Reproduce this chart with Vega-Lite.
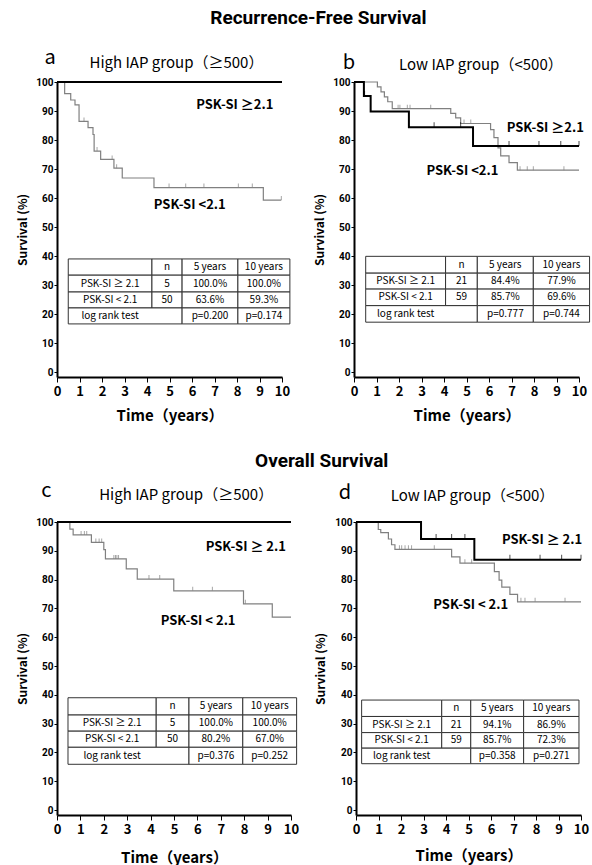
{
"$schema": "https://vega.github.io/schema/vega-lite/v6.json",
"background": "white",
"padding": {"left": 16, "top": 8, "right": 0, "bottom": 0},
"datasets": {
"a_curve": [{"t":0,"s":100,"g":"lo"},{"t":0.34,"s":96.0,"g":"lo"},{"t":0.61,"s":93.8,"g":"lo"},{"t":0.8,"s":92.1,"g":"lo"},{"t":0.98,"s":86.4,"g":"lo"},{"t":1.38,"s":84.3,"g":"lo"},{"t":1.6,"s":81.9,"g":"lo"},{"t":1.65,"s":76.2,"g":"lo"},{"t":1.94,"s":73.3,"g":"lo"},{"t":2.53,"s":70.3,"g":"lo"},{"t":2.9,"s":66.9,"g":"lo"},{"t":4.31,"s":63.6,"g":"lo"},{"t":9.17,"s":59.3,"g":"lo"},{"t":9.97,"s":59.3,"g":"lo"},{"t":0,"s":100,"g":"hi"},{"t":10,"s":100,"g":"hi"}],
"a_cens": [{"t":1.2,"s":86.4,"g":"lo"},{"t":1.78,"s":76.2,"g":"lo"},{"t":2.45,"s":73.3,"g":"lo"},{"t":2.65,"s":70.3,"g":"lo"},{"t":4.98,"s":63.6,"g":"lo"},{"t":5.72,"s":63.6,"g":"lo"},{"t":6.53,"s":63.6,"g":"lo"},{"t":8.06,"s":63.6,"g":"lo"},{"t":8.68,"s":63.6,"g":"lo"},{"t":9.97,"s":59.3,"g":"lo"}],
"a_txt": [{"t":-0.31,"s":108.3,"label":"a","kind":"letter"},{"t":5.31,"s":106.6,"label":"High IAP group（≥500）","kind":"head"},{"t":7.9,"s":92.1,"label":"PSK-SI ≥2.1","kind":"label"},{"t":5.9,"s":57.6,"label":"PSK-SI <2.1","kind":"label"}],
"a_cells": [
{"x1":0.5,"x2":4.22,"y1":39.0,"y2":33.4},{"x1":4.22,"x2":5.56,"y1":39.0,"y2":33.4},{"x1":5.56,"x2":8.04,"y1":39.0,"y2":33.4},{"x1":8.04,"x2":10.35,"y1":39.0,"y2":33.4},
{"x1":0.5,"x2":4.22,"y1":33.4,"y2":27.6},{"x1":4.22,"x2":5.56,"y1":33.4,"y2":27.6},{"x1":5.56,"x2":8.04,"y1":33.4,"y2":27.6},{"x1":8.04,"x2":10.35,"y1":33.4,"y2":27.6},
{"x1":0.5,"x2":4.22,"y1":27.6,"y2":22.1},{"x1":4.22,"x2":5.56,"y1":27.6,"y2":22.1},{"x1":5.56,"x2":8.04,"y1":27.6,"y2":22.1},{"x1":8.04,"x2":10.35,"y1":27.6,"y2":22.1},
{"x1":0.5,"x2":5.56,"y1":22.1,"y2":16.6},{"x1":5.56,"x2":8.04,"y1":22.1,"y2":16.6},{"x1":8.04,"x2":10.35,"y1":22.1,"y2":16.6}],
"a_tt": [
{"label":"n","tx":4.89,"ty":36.2},{"label":"5 years","tx":6.8,"ty":36.2},{"label":"10 years","tx":9.195,"ty":36.2},
{"label":"PSK-SI ≥ 2.1","tx":2.36,"ty":30.5},{"label":"5","tx":4.89,"ty":30.5},{"label":"100.0%","tx":6.8,"ty":30.5},{"label":"100.0%","tx":9.195,"ty":30.5},
{"label":"PSK-SI < 2.1","tx":2.36,"ty":24.85},{"label":"50","tx":4.89,"ty":24.85},{"label":"63.6%","tx":6.8,"ty":24.85},{"label":"59.3%","tx":9.195,"ty":24.85},
{"label":"log rank test","tx":2.36,"ty":19.35},{"label":"p=0.200","tx":6.8,"ty":19.35},{"label":"p=0.174","tx":9.195,"ty":19.35}],
"b_curve": [{"t":0,"s":100,"g":"lo"},{"t":1.04,"s":98.3,"g":"lo"},{"t":1.2,"s":96.6,"g":"lo"},{"t":1.35,"s":94.9,"g":"lo"},{"t":1.5,"s":93.2,"g":"lo"},{"t":1.7,"s":90.8,"g":"lo"},{"t":4.3,"s":89.2,"g":"lo"},{"t":4.52,"s":87.6,"g":"lo"},{"t":4.74,"s":85.7,"g":"lo"},{"t":6.07,"s":83.6,"g":"lo"},{"t":6.22,"s":80.8,"g":"lo"},{"t":6.4,"s":77.3,"g":"lo"},{"t":6.52,"s":74.5,"g":"lo"},{"t":6.89,"s":72.2,"g":"lo"},{"t":7.26,"s":69.6,"g":"lo"},{"t":10,"s":69.6,"g":"lo"},{"t":0,"s":100,"g":"hi"},{"t":0.44,"s":95.2,"g":"hi"},{"t":0.74,"s":89.8,"g":"hi"},{"t":2.44,"s":84.4,"g":"hi"},{"t":5.29,"s":77.9,"g":"hi"},{"t":10,"s":77.9,"g":"hi"}],
"b_cens": [{"t":0.47,"s":95.2,"g":"hi"},{"t":3.56,"s":84.4,"g":"hi"},{"t":4.74,"s":84.4,"g":"hi"},{"t":6.89,"s":77.9,"g":"hi"},{"t":8.22,"s":77.9,"g":"hi"},{"t":9.19,"s":77.9,"g":"hi"},{"t":10,"s":77.9,"g":"hi"},{"t":1.96,"s":90.8,"g":"lo"},{"t":2.04,"s":90.8,"g":"lo"},{"t":2.37,"s":90.8,"g":"lo"},{"t":2.49,"s":90.8,"g":"lo"},{"t":3.41,"s":90.8,"g":"lo"},{"t":4.89,"s":85.7,"g":"lo"},{"t":5.19,"s":85.7,"g":"lo"},{"t":7.38,"s":69.6,"g":"lo"},{"t":7.7,"s":69.6,"g":"lo"},{"t":7.97,"s":69.6,"g":"lo"},{"t":9.33,"s":69.6,"g":"lo"}],
"b_txt": [{"t":-0.22,"s":106.5,"label":"b","kind":"letter"},{"t":5.64,"s":105.8,"label":"Low IAP group（<500）","kind":"head"},{"t":8.5,"s":84.2,"label":"PSK-SI ≥2.1","kind":"label"},{"t":4.82,"s":69.4,"label":"PSK-SI <2.1","kind":"label"}],
"b_cells": [
{"x1":0.52,"x2":4.07,"y1":39.9,"y2":34.1},{"x1":4.07,"x2":5.48,"y1":39.9,"y2":34.1},{"x1":5.48,"x2":7.97,"y1":39.9,"y2":34.1},{"x1":7.97,"x2":10.47,"y1":39.9,"y2":34.1},
{"x1":0.52,"x2":4.07,"y1":34.1,"y2":28.6},{"x1":4.07,"x2":5.48,"y1":34.1,"y2":28.6},{"x1":5.48,"x2":7.97,"y1":34.1,"y2":28.6},{"x1":7.97,"x2":10.47,"y1":34.1,"y2":28.6},
{"x1":0.52,"x2":4.07,"y1":28.6,"y2":22.9},{"x1":4.07,"x2":5.48,"y1":28.6,"y2":22.9},{"x1":5.48,"x2":7.97,"y1":28.6,"y2":22.9},{"x1":7.97,"x2":10.47,"y1":28.6,"y2":22.9},
{"x1":0.52,"x2":5.48,"y1":22.9,"y2":17.2},{"x1":5.48,"x2":7.97,"y1":22.9,"y2":17.2},{"x1":7.97,"x2":10.47,"y1":22.9,"y2":17.2}],
"b_tt": [
{"label":"n","tx":4.775,"ty":37.0},{"label":"5 years","tx":6.725,"ty":37.0},{"label":"10 years","tx":9.22,"ty":37.0},
{"label":"PSK-SI ≥ 2.1","tx":2.295,"ty":31.35},{"label":"21","tx":4.775,"ty":31.35},{"label":"84.4%","tx":6.725,"ty":31.35},{"label":"77.9%","tx":9.22,"ty":31.35},
{"label":"PSK-SI < 2.1","tx":2.295,"ty":25.75},{"label":"59","tx":4.775,"ty":25.75},{"label":"85.7%","tx":6.725,"ty":25.75},{"label":"69.6%","tx":9.22,"ty":25.75},
{"label":"log rank test","tx":2.295,"ty":20.05},{"label":"p=0.777","tx":6.725,"ty":20.05},{"label":"p=0.744","tx":9.22,"ty":20.05}],
"c_curve": [{"t":0,"s":100,"g":"lo"},{"t":0.55,"s":97.5,"g":"lo"},{"t":0.69,"s":95.5,"g":"lo"},{"t":1.47,"s":92.9,"g":"lo"},{"t":2.0,"s":90.4,"g":"lo"},{"t":2.07,"s":87.2,"g":"lo"},{"t":2.96,"s":83.7,"g":"lo"},{"t":3.43,"s":80.2,"g":"lo"},{"t":4.99,"s":76.1,"g":"lo"},{"t":7.97,"s":71.6,"g":"lo"},{"t":9.2,"s":67.0,"g":"lo"},{"t":10,"s":67.0,"g":"lo"},{"t":0,"s":100,"g":"hi"},{"t":10,"s":100,"g":"hi"}],
"c_cens": [{"t":1.03,"s":95.5,"g":"lo"},{"t":1.17,"s":95.5,"g":"lo"},{"t":1.27,"s":95.5,"g":"lo"},{"t":1.66,"s":92.9,"g":"lo"},{"t":1.8,"s":92.9,"g":"lo"},{"t":1.91,"s":92.9,"g":"lo"},{"t":2.43,"s":87.2,"g":"lo"},{"t":2.5,"s":87.2,"g":"lo"},{"t":2.56,"s":87.2,"g":"lo"},{"t":2.63,"s":87.2,"g":"lo"},{"t":3.93,"s":80.2,"g":"lo"},{"t":4.39,"s":80.2,"g":"lo"},{"t":5.8,"s":76.1,"g":"lo"},{"t":6.64,"s":76.1,"g":"lo"},{"t":8.05,"s":71.6,"g":"lo"}],
"c_txt": [{"t":-0.46,"s":110.8,"label":"c","kind":"letter"},{"t":5.52,"s":109.4,"label":"High IAP group（≥500）","kind":"head"},{"t":8.07,"s":91.3,"label":"PSK-SI ≥ 2.1","kind":"label"},{"t":6.03,"s":65.6,"label":"PSK-SI < 2.1","kind":"label"}],
"c_cells": [
{"x1":0.47,"x2":4.24,"y1":39.0,"y2":33.0},{"x1":4.24,"x2":5.64,"y1":39.0,"y2":33.0},{"x1":5.64,"x2":7.94,"y1":39.0,"y2":33.0},{"x1":7.94,"x2":10.24,"y1":39.0,"y2":33.0},
{"x1":0.47,"x2":4.24,"y1":33.0,"y2":27.4},{"x1":4.24,"x2":5.64,"y1":33.0,"y2":27.4},{"x1":5.64,"x2":7.94,"y1":33.0,"y2":27.4},{"x1":7.94,"x2":10.24,"y1":33.0,"y2":27.4},
{"x1":0.47,"x2":4.24,"y1":27.4,"y2":21.8},{"x1":4.24,"x2":5.64,"y1":27.4,"y2":21.8},{"x1":5.64,"x2":7.94,"y1":27.4,"y2":21.8},{"x1":7.94,"x2":10.24,"y1":27.4,"y2":21.8},
{"x1":0.47,"x2":5.64,"y1":21.8,"y2":15.9},{"x1":5.64,"x2":7.94,"y1":21.8,"y2":15.9},{"x1":7.94,"x2":10.24,"y1":21.8,"y2":15.9}],
"c_tt": [
{"label":"n","tx":4.94,"ty":36.0},{"label":"5 years","tx":6.79,"ty":36.0},{"label":"10 years","tx":9.09,"ty":36.0},
{"label":"PSK-SI ≥ 2.1","tx":2.355,"ty":30.2},{"label":"5","tx":4.94,"ty":30.2},{"label":"100.0%","tx":6.79,"ty":30.2},{"label":"100.0%","tx":9.09,"ty":30.2},
{"label":"PSK-SI < 2.1","tx":2.355,"ty":24.6},{"label":"50","tx":4.94,"ty":24.6},{"label":"80.2%","tx":6.79,"ty":24.6},{"label":"67.0%","tx":9.09,"ty":24.6},
{"label":"log rank test","tx":2.355,"ty":18.85},{"label":"p=0.376","tx":6.79,"ty":18.85},{"label":"p=0.252","tx":9.09,"ty":18.85}],
"d_curve": [{"t":0,"s":100,"g":"lo"},{"t":0.99,"s":97.4,"g":"lo"},{"t":1.1,"s":96.3,"g":"lo"},{"t":1.44,"s":94.1,"g":"lo"},{"t":1.58,"s":92.1,"g":"lo"},{"t":1.73,"s":90.5,"g":"lo"},{"t":4.25,"s":87.9,"g":"lo"},{"t":4.62,"s":85.7,"g":"lo"},{"t":6.15,"s":82.8,"g":"lo"},{"t":6.36,"s":79.8,"g":"lo"},{"t":6.48,"s":77.4,"g":"lo"},{"t":6.84,"s":74.9,"g":"lo"},{"t":7.18,"s":72.3,"g":"lo"},{"t":10,"s":72.3,"g":"lo"},{"t":0,"s":100,"g":"hi"},{"t":2.89,"s":94.1,"g":"hi"},{"t":5.26,"s":86.9,"g":"hi"},{"t":10,"s":86.9,"g":"hi"}],
"d_cens": [{"t":3.56,"s":94.1,"g":"hi"},{"t":4.25,"s":94.1,"g":"hi"},{"t":4.84,"s":94.1,"g":"hi"},{"t":6.84,"s":86.9,"g":"hi"},{"t":8.18,"s":86.9,"g":"hi"},{"t":9.14,"s":86.9,"g":"hi"},{"t":10,"s":86.9,"g":"hi"},{"t":1.93,"s":90.5,"g":"lo"},{"t":2.03,"s":90.5,"g":"lo"},{"t":2.18,"s":90.5,"g":"lo"},{"t":2.33,"s":90.5,"g":"lo"},{"t":2.47,"s":90.5,"g":"lo"},{"t":3.48,"s":90.5,"g":"lo"},{"t":4.84,"s":85.7,"g":"lo"},{"t":5.14,"s":85.7,"g":"lo"},{"t":7.33,"s":72.3,"g":"lo"},{"t":7.51,"s":72.3,"g":"lo"},{"t":7.96,"s":72.3,"g":"lo"},{"t":9.29,"s":72.3,"g":"lo"}],
"d_txt": [{"t":-0.49,"s":110.1,"label":"d","kind":"letter"},{"t":5.18,"s":108.9,"label":"Low IAP group（<500）","kind":"head"},{"t":8.27,"s":93.7,"label":"PSK-SI ≥ 2.1","kind":"label"},{"t":5.1,"s":71.1,"label":"PSK-SI < 2.1","kind":"label"}],
"d_cells": [
{"x1":0.25,"x2":3.81,"y1":38.2,"y2":32.5},{"x1":3.81,"x2":5.1,"y1":38.2,"y2":32.5},{"x1":5.1,"x2":7.45,"y1":38.2,"y2":32.5},{"x1":7.45,"x2":9.91,"y1":38.2,"y2":32.5},
{"x1":0.25,"x2":3.81,"y1":32.5,"y2":26.9},{"x1":3.81,"x2":5.1,"y1":32.5,"y2":26.9},{"x1":5.1,"x2":7.45,"y1":32.5,"y2":26.9},{"x1":7.45,"x2":9.91,"y1":32.5,"y2":26.9},
{"x1":0.25,"x2":3.81,"y1":26.9,"y2":21.5},{"x1":3.81,"x2":5.1,"y1":26.9,"y2":21.5},{"x1":5.1,"x2":7.45,"y1":26.9,"y2":21.5},{"x1":7.45,"x2":9.91,"y1":26.9,"y2":21.5},
{"x1":0.25,"x2":5.1,"y1":21.5,"y2":16.1},{"x1":5.1,"x2":7.45,"y1":21.5,"y2":16.1},{"x1":7.45,"x2":9.91,"y1":21.5,"y2":16.1}],
"d_tt": [
{"label":"n","tx":4.455,"ty":35.35},{"label":"5 years","tx":6.275,"ty":35.35},{"label":"10 years","tx":8.68,"ty":35.35},
{"label":"PSK-SI ≥ 2.1","tx":2.03,"ty":29.7},{"label":"21","tx":4.455,"ty":29.7},{"label":"94.1%","tx":6.275,"ty":29.7},{"label":"86.9%","tx":8.68,"ty":29.7},
{"label":"PSK-SI < 2.1","tx":2.03,"ty":24.2},{"label":"59","tx":4.455,"ty":24.2},{"label":"85.7%","tx":6.275,"ty":24.2},{"label":"72.3%","tx":8.68,"ty":24.2},
{"label":"log rank test","tx":2.03,"ty":18.8},{"label":"p=0.358","tx":6.275,"ty":18.8},{"label":"p=0.271","tx":8.68,"ty":18.8}]
},
"spacing": 28,
"vconcat": [
{
"title": {"text": "Recurrence-Free Survival", "fontSize": 19, "font": "Roboto", "fontWeight": "bold", "frame": "bounds", "anchor": "middle", "offset": 20, "dx": 15},
"bounds": "flush",
"spacing": 72,
"hconcat": [
{
"width": 225, "height": 295,
"layer": [
{"data": {"name": "a_cells"}, "mark": {"type": "rect", "fill": "white", "stroke": "#333", "strokeWidth": 1},
 "encoding": {"x": {"field": "x1", "type": "quantitative", "scale": {"domain": [0, 10], "nice": false}, "axis": {"title": "Time（years）", "titlePadding": 10}}, "x2": {"field": "x2"},
  "y": {"field": "y1", "type": "quantitative", "scale": {"domain": [-1.7, 100], "nice": false}, "axis": {"title": "Survival (%)", "titlePadding": 6}}, "y2": {"field": "y2"}}},
{"data": {"name": "a_tt"}, "mark": {"type": "text", "fontSize": 10},
 "encoding": {"x": {"field": "tx", "type": "quantitative"}, "y": {"field": "ty", "type": "quantitative"}, "text": {"field": "label"}}},
{"data": {"name": "a_curve"}, "transform": [{"filter": "datum.g === 'lo'"}], "mark": {"type": "line", "interpolate": "step-after", "color": "#808080", "strokeWidth": 1.2},
 "encoding": {"x": {"field": "t", "type": "quantitative"}, "y": {"field": "s", "type": "quantitative"}}},
{"data": {"name": "a_curve"}, "transform": [{"filter": "datum.g === 'hi'"}], "mark": {"type": "line", "interpolate": "step-after", "color": "#000000", "strokeWidth": 2},
 "encoding": {"x": {"field": "t", "type": "quantitative"}, "y": {"field": "s", "type": "quantitative"}}},
{"data": {"name": "a_cens"}, "mark": {"type": "tick", "orient": "vertical", "size": 4, "thickness": 1, "yOffset": -2, "color": "#808080"},
 "encoding": {"x": {"field": "t", "type": "quantitative"}, "y": {"field": "s", "type": "quantitative"}}},
{"data": {"name": "a_txt"}, "transform": [{"filter": "datum.kind === 'label'"}], "mark": {"type": "text", "fontSize": 13, "fontWeight": "bold"},
 "encoding": {"x": {"field": "t", "type": "quantitative"}, "y": {"field": "s", "type": "quantitative"}, "text": {"field": "label"}}},
{"data": {"name": "a_txt"}, "transform": [{"filter": "datum.kind === 'head'"}], "mark": {"type": "text", "fontSize": 15},
 "encoding": {"x": {"field": "t", "type": "quantitative"}, "y": {"field": "s", "type": "quantitative"}, "text": {"field": "label"}}},
{"data": {"name": "a_txt"}, "transform": [{"filter": "datum.kind === 'letter'"}], "mark": {"type": "text", "fontSize": 20},
 "encoding": {"x": {"field": "t", "type": "quantitative"}, "y": {"field": "s", "type": "quantitative"}, "text": {"field": "label"}}}
]
},
{
"width": 225, "height": 295,
"layer": [
{"data": {"name": "b_cells"}, "mark": {"type": "rect", "fill": "white", "stroke": "#333", "strokeWidth": 1},
 "encoding": {"x": {"field": "x1", "type": "quantitative", "scale": {"domain": [0, 10], "nice": false}, "axis": {"title": "Time（years）", "titlePadding": 10}}, "x2": {"field": "x2"},
  "y": {"field": "y1", "type": "quantitative", "scale": {"domain": [-1.7, 100], "nice": false}, "axis": {"title": "Survival (%)", "titlePadding": 6}}, "y2": {"field": "y2"}}},
{"data": {"name": "b_tt"}, "mark": {"type": "text", "fontSize": 10},
 "encoding": {"x": {"field": "tx", "type": "quantitative"}, "y": {"field": "ty", "type": "quantitative"}, "text": {"field": "label"}}},
{"data": {"name": "b_curve"}, "transform": [{"filter": "datum.g === 'lo'"}], "mark": {"type": "line", "interpolate": "step-after", "color": "#808080", "strokeWidth": 1.2},
 "encoding": {"x": {"field": "t", "type": "quantitative"}, "y": {"field": "s", "type": "quantitative"}}},
{"data": {"name": "b_curve"}, "transform": [{"filter": "datum.g === 'hi'"}], "mark": {"type": "line", "interpolate": "step-after", "color": "#000000", "strokeWidth": 2},
 "encoding": {"x": {"field": "t", "type": "quantitative"}, "y": {"field": "s", "type": "quantitative"}}},
{"data": {"name": "b_cens"}, "transform": [{"filter": "datum.g === 'lo'"}], "mark": {"type": "tick", "orient": "vertical", "size": 4, "thickness": 1, "yOffset": -2, "color": "#808080"},
 "encoding": {"x": {"field": "t", "type": "quantitative"}, "y": {"field": "s", "type": "quantitative"}}},
{"data": {"name": "b_cens"}, "transform": [{"filter": "datum.g === 'hi'"}], "mark": {"type": "tick", "orient": "vertical", "size": 5, "thickness": 1, "yOffset": -2.5, "color": "#000000"},
 "encoding": {"x": {"field": "t", "type": "quantitative"}, "y": {"field": "s", "type": "quantitative"}}},
{"data": {"name": "b_txt"}, "transform": [{"filter": "datum.kind === 'label'"}], "mark": {"type": "text", "fontSize": 13, "fontWeight": "bold"},
 "encoding": {"x": {"field": "t", "type": "quantitative"}, "y": {"field": "s", "type": "quantitative"}, "text": {"field": "label"}}},
{"data": {"name": "b_txt"}, "transform": [{"filter": "datum.kind === 'head'"}], "mark": {"type": "text", "fontSize": 15},
 "encoding": {"x": {"field": "t", "type": "quantitative"}, "y": {"field": "s", "type": "quantitative"}, "text": {"field": "label"}}},
{"data": {"name": "b_txt"}, "transform": [{"filter": "datum.kind === 'letter'"}], "mark": {"type": "text", "fontSize": 20},
 "encoding": {"x": {"field": "t", "type": "quantitative"}, "y": {"field": "s", "type": "quantitative"}, "text": {"field": "label"}}}
]
}
]
},
{
"title": {"text": "Overall Survival", "fontSize": 19, "font": "Roboto", "fontWeight": "bold", "frame": "bounds", "anchor": "middle", "offset": 10, "dx": 19},
"bounds": "flush",
"spacing": 65,
"hconcat": [
{
"width": 234, "height": 293,
"layer": [
{"data": {"name": "c_cells"}, "mark": {"type": "rect", "fill": "white", "stroke": "#333", "strokeWidth": 1},
 "encoding": {"x": {"field": "x1", "type": "quantitative", "scale": {"domain": [0, 10], "nice": false}, "axis": {"title": "Time（years）", "titlePadding": 14}}, "x2": {"field": "x2"},
  "y": {"field": "y1", "type": "quantitative", "scale": {"domain": [-1.7, 100], "nice": false}, "axis": {"title": "Survival (%)", "titlePadding": 6}}, "y2": {"field": "y2"}}},
{"data": {"name": "c_tt"}, "mark": {"type": "text", "fontSize": 10},
 "encoding": {"x": {"field": "tx", "type": "quantitative"}, "y": {"field": "ty", "type": "quantitative"}, "text": {"field": "label"}}},
{"data": {"name": "c_curve"}, "transform": [{"filter": "datum.g === 'lo'"}], "mark": {"type": "line", "interpolate": "step-after", "color": "#808080", "strokeWidth": 1.2},
 "encoding": {"x": {"field": "t", "type": "quantitative"}, "y": {"field": "s", "type": "quantitative"}}},
{"data": {"name": "c_curve"}, "transform": [{"filter": "datum.g === 'hi'"}], "mark": {"type": "line", "interpolate": "step-after", "color": "#000000", "strokeWidth": 2},
 "encoding": {"x": {"field": "t", "type": "quantitative"}, "y": {"field": "s", "type": "quantitative"}}},
{"data": {"name": "c_cens"}, "mark": {"type": "tick", "orient": "vertical", "size": 4, "thickness": 1, "yOffset": -2, "color": "#808080"},
 "encoding": {"x": {"field": "t", "type": "quantitative"}, "y": {"field": "s", "type": "quantitative"}}},
{"data": {"name": "c_txt"}, "transform": [{"filter": "datum.kind === 'label'"}], "mark": {"type": "text", "fontSize": 13, "fontWeight": "bold"},
 "encoding": {"x": {"field": "t", "type": "quantitative"}, "y": {"field": "s", "type": "quantitative"}, "text": {"field": "label"}}},
{"data": {"name": "c_txt"}, "transform": [{"filter": "datum.kind === 'head'"}], "mark": {"type": "text", "fontSize": 15},
 "encoding": {"x": {"field": "t", "type": "quantitative"}, "y": {"field": "s", "type": "quantitative"}, "text": {"field": "label"}}},
{"data": {"name": "c_txt"}, "transform": [{"filter": "datum.kind === 'letter'"}], "mark": {"type": "text", "fontSize": 20},
 "encoding": {"x": {"field": "t", "type": "quantitative"}, "y": {"field": "s", "type": "quantitative"}, "text": {"field": "label"}}}
]
},
{
"width": 225, "height": 293,
"layer": [
{"data": {"name": "d_cells"}, "mark": {"type": "rect", "fill": "white", "stroke": "#333", "strokeWidth": 1},
 "encoding": {"x": {"field": "x1", "type": "quantitative", "scale": {"domain": [0, 10], "nice": false}, "axis": {"title": "Time（years）", "titlePadding": 12}}, "x2": {"field": "x2"},
  "y": {"field": "y1", "type": "quantitative", "scale": {"domain": [-1.7, 100], "nice": false}, "axis": {"title": "Survival (%)", "titlePadding": 7}}, "y2": {"field": "y2"}}},
{"data": {"name": "d_tt"}, "mark": {"type": "text", "fontSize": 10},
 "encoding": {"x": {"field": "tx", "type": "quantitative"}, "y": {"field": "ty", "type": "quantitative"}, "text": {"field": "label"}}},
{"data": {"name": "d_curve"}, "transform": [{"filter": "datum.g === 'lo'"}], "mark": {"type": "line", "interpolate": "step-after", "color": "#808080", "strokeWidth": 1.2},
 "encoding": {"x": {"field": "t", "type": "quantitative"}, "y": {"field": "s", "type": "quantitative"}}},
{"data": {"name": "d_curve"}, "transform": [{"filter": "datum.g === 'hi'"}], "mark": {"type": "line", "interpolate": "step-after", "color": "#000000", "strokeWidth": 2},
 "encoding": {"x": {"field": "t", "type": "quantitative"}, "y": {"field": "s", "type": "quantitative"}}},
{"data": {"name": "d_cens"}, "transform": [{"filter": "datum.g === 'lo'"}], "mark": {"type": "tick", "orient": "vertical", "size": 4, "thickness": 1, "yOffset": -2, "color": "#808080"},
 "encoding": {"x": {"field": "t", "type": "quantitative"}, "y": {"field": "s", "type": "quantitative"}}},
{"data": {"name": "d_cens"}, "transform": [{"filter": "datum.g === 'hi'"}], "mark": {"type": "tick", "orient": "vertical", "size": 5, "thickness": 1, "yOffset": -2.5, "color": "#000000"},
 "encoding": {"x": {"field": "t", "type": "quantitative"}, "y": {"field": "s", "type": "quantitative"}}},
{"data": {"name": "d_txt"}, "transform": [{"filter": "datum.kind === 'label'"}], "mark": {"type": "text", "fontSize": 13, "fontWeight": "bold"},
 "encoding": {"x": {"field": "t", "type": "quantitative"}, "y": {"field": "s", "type": "quantitative"}, "text": {"field": "label"}}},
{"data": {"name": "d_txt"}, "transform": [{"filter": "datum.kind === 'head'"}], "mark": {"type": "text", "fontSize": 15},
 "encoding": {"x": {"field": "t", "type": "quantitative"}, "y": {"field": "s", "type": "quantitative"}, "text": {"field": "label"}}},
{"data": {"name": "d_txt"}, "transform": [{"filter": "datum.kind === 'letter'"}], "mark": {"type": "text", "fontSize": 20},
 "encoding": {"x": {"field": "t", "type": "quantitative"}, "y": {"field": "s", "type": "quantitative"}, "text": {"field": "label"}}}
]
}
]
}
],
"config": {
"font": "Noto Sans CJK KR",
"view": {"stroke": null},
"axis": {"grid": false, "domainColor": "#000", "domainWidth": 2, "tickColor": "#000", "labelColor": "#000", "titleColor": "#000", "labelFlush": false, "labelOverlap": false, "labelFontWeight": "bold", "titleFontWeight": "bold", "tickCount": 11},
"axisX": {"tickSize": 5, "labelPadding": 3, "labelFontSize": 13, "titleFontSize": 15},
"axisY": {"tickSize": 3, "labelPadding": 1, "labelFontSize": 10, "labelFont": "Roboto", "titleFontSize": 12},
"title": {"fontSize": 15, "fontWeight": "normal", "color": "#000"},
"text": {"color": "#000"}
}
}
